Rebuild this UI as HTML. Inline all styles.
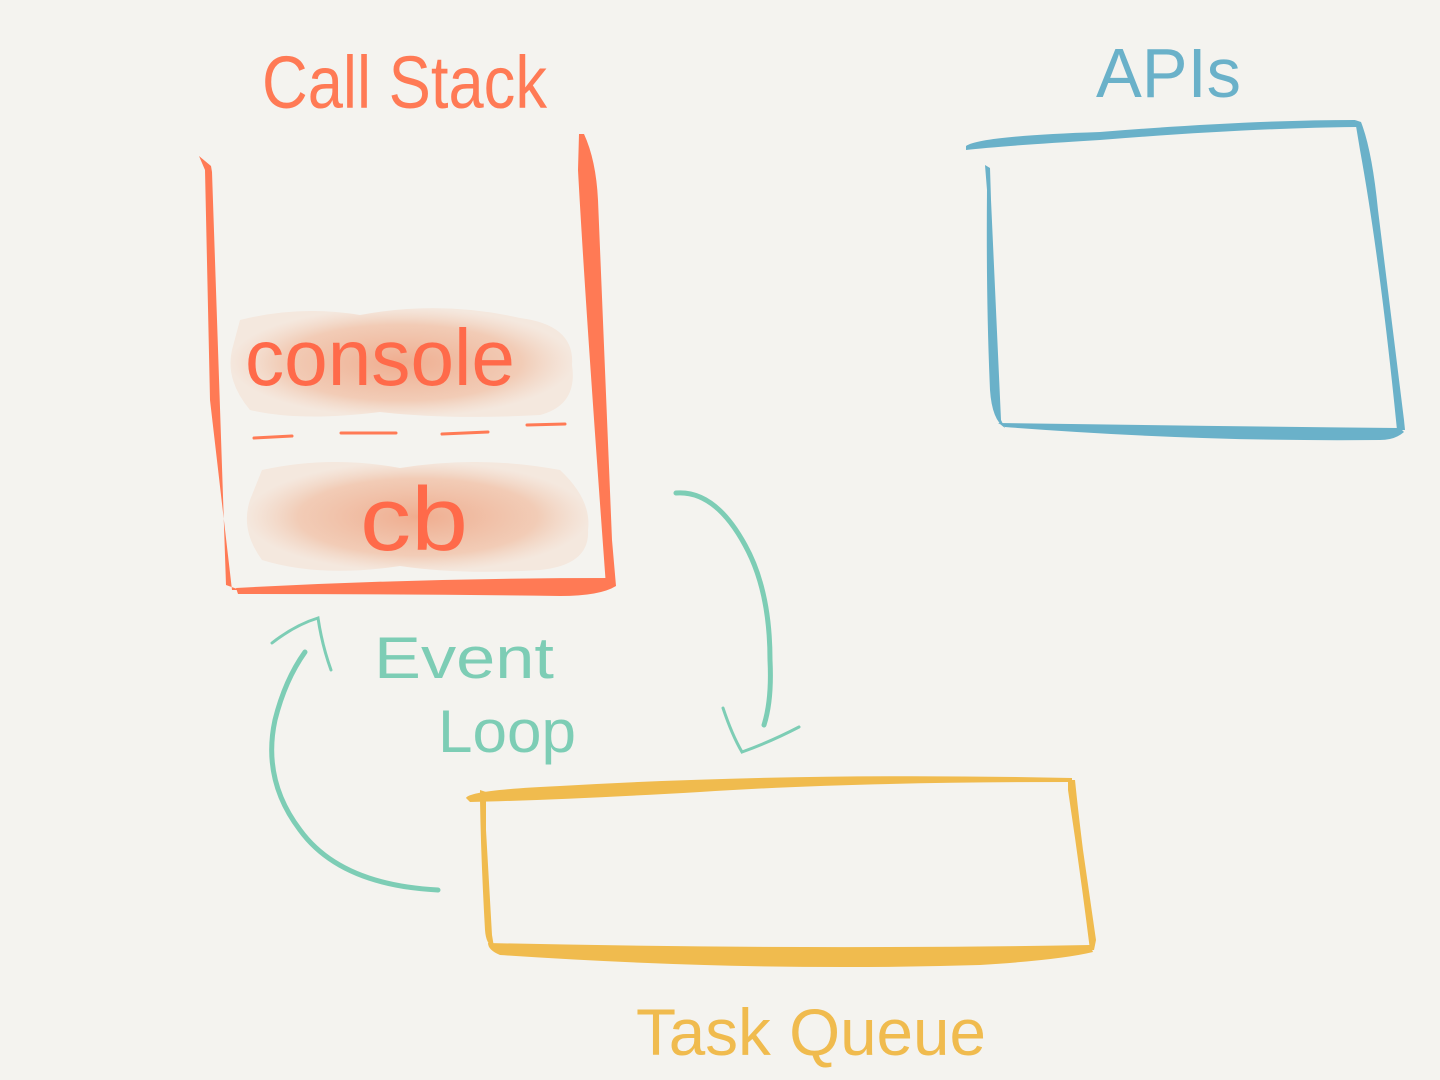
<!DOCTYPE html>
<html><head><meta charset="utf-8"><style>
html,body{margin:0;padding:0;background:#f4f3ef;}
svg{display:block}
text{font-family:"Liberation Sans",sans-serif;font-weight:normal}
</style></head><body>
<svg width="1440" height="1080" viewBox="0 0 1440 1080" xmlns="http://www.w3.org/2000/svg">
<defs>
<radialGradient id="bl" cx="50%" cy="50%" r="50%">
<stop offset="0%" stop-color="#efa98a" stop-opacity="0.95"/>
<stop offset="70%" stop-color="#f1c2a8" stop-opacity="0.8"/>
<stop offset="100%" stop-color="#f4dccc" stop-opacity="0.5"/>
</radialGradient>
</defs>
<rect width="1440" height="1080" fill="#f4f3ef"/>

<!-- blobs -->
<path d="M240 320 Q300 305 360 315 Q440 300 520 318 Q575 325 572 365 Q578 405 540 415 Q450 420 380 412 Q300 422 250 410 Q225 380 232 350 Z" fill="url(#bl)"/>
<path d="M262 470 Q330 455 400 468 Q480 455 560 470 Q592 500 588 530 Q590 565 540 570 Q460 575 400 566 Q320 578 262 560 Q240 530 250 500 Z" fill="url(#bl)"/>

<!-- call stack -->
<g fill="#ff7a55" stroke="none">
<path d="M199 156 L211 166 L212 172 L226 585 L240 590 L232 590 L210 400 L205 170 Z"/>
<path d="M236 588 Q420 578 612 578 L616 586 Q600 596 560 596 Q400 594 238 594 Z"/>
<path d="M579 134 L584 134 Q596 160 598 200 L612 540 L616 586 L606 586 Q585 300 578 170 Z"/>
</g>
<g stroke="#ff7a55" stroke-width="3" stroke-linecap="round" fill="none">
<path d="M254 438 L292 436"/><path d="M341 433 L396 433"/><path d="M442 434 L488 432"/><path d="M527 425 L565 424"/>
</g>

<!-- APIs box -->
<g fill="#6ab1c9">
<path d="M966 146 Q980 136 1100 132 Q1250 120 1355 120 L1357 127 Q1250 128 1100 140 Q1000 146 966 150 Z"/>
<path d="M1355 120 L1361 122 Q1372 150 1378 210 L1404 420 L1405 430 L1397 430 Q1380 260 1360 150 Z"/>
<path d="M998 423 Q1200 426 1400 428 L1404 432 Q1395 440 1380 440 Q1200 442 1005 427 Z"/>
<path d="M985 165 L990 168 L991 200 L1001 420 L1005 428 Q992 420 990 390 Q986 300 987 190 Z"/>
</g>

<!-- Task queue -->
<g fill="#f0bb4e">
<path d="M466 798 Q470 790 560 786 Q800 772 1072 778 L1072 782 Q850 782 700 792 Q560 800 470 802 Z"/>
<path d="M1068 780 L1075 780 Q1078 810 1083 850 L1096 940 L1094 950 L1090 950 Q1080 870 1068 790 Z"/>
<path d="M488 943 Q800 950 1090 945 L1093 952 Q1060 960 980 965 Q750 972 500 955 Q488 950 488 943 Z"/>
<path d="M480 790 L486 792 L486 830 L492 935 L494 947 Q486 945 485 930 Q481 860 480 800 Z"/>
</g>

<!-- arrows -->
<g stroke="#7dcdb5" stroke-width="5" fill="none" stroke-linecap="round">
<path d="M676 493 Q715 490 745 545 Q770 590 770 660 Q772 700 764 725"/>
<path d="M723 708 Q732 735 742 752 Q770 742 799 727" stroke-width="3"/>
<path d="M438 890 Q340 885 300 830 Q262 780 275 720 Q285 680 305 652"/>
<path d="M272 643 Q295 625 318 618 Q322 645 331 670" stroke-width="3"/>
</g>

<!-- labels -->
<text x="262" y="108" font-size="74" fill="#ff7a55" textLength="285" lengthAdjust="spacingAndGlyphs">Call Stack</text>
<text x="1096" y="97" font-size="70" fill="#6ab1c9" textLength="145" lengthAdjust="spacingAndGlyphs">APIs</text>
<text x="245" y="385" font-size="80" fill="#ff6a4a" textLength="270" lengthAdjust="spacingAndGlyphs">console</text>
<text x="360" y="550" font-size="90" fill="#ff6a4a" textLength="108" lengthAdjust="spacingAndGlyphs">cb</text>
<text x="374" y="678" font-size="58" fill="#7dcdb5" textLength="180" lengthAdjust="spacingAndGlyphs">Event</text>
<text x="438" y="752" font-size="60" fill="#7dcdb5" textLength="138" lengthAdjust="spacingAndGlyphs">Loop</text>
<text x="636" y="1055" font-size="66" fill="#f0bb4e" textLength="350" lengthAdjust="spacingAndGlyphs">Task Queue</text>
</svg>
</body></html>
